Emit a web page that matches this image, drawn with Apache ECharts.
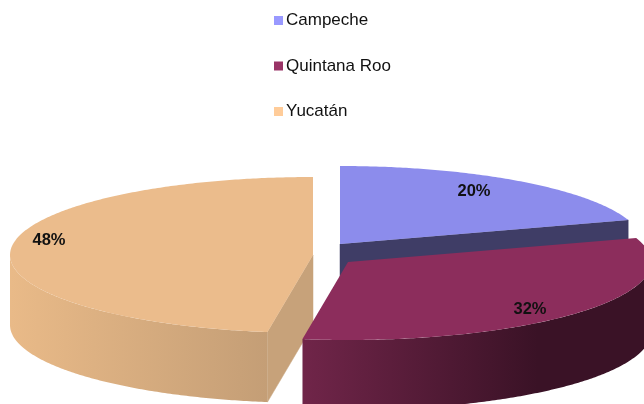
<!DOCTYPE html>
<html>
<head>
<meta charset="utf-8">
<style>html,body{margin:0;padding:0;background:#fff}#c{width:644px;height:404px}</style>
<script src="https://cdn.jsdelivr.net/npm/echarts@6/dist/echarts.min.js"></script>
</head>
<body>
<div id="c"></div>
<script>
const categories = ['Campeche', 'Quintana Roo', 'Yucatán'];
const shares = [20, 32.4, 47.6];
const legendColors = ['#9999FF', '#993366', '#FFCC99'];
const topColors = ['#8C8CEC', '#8C2D5C', '#EBBC8C'];
const faceColors = ['#3F3D66', '#5A1C3C', '#C7A27A'];
const sideStops = [
  ['#3F3D66', '#3F3D66'],
  ['#702549', '#3A1226'],
  ['#E9BA88', '#C49E76']
];
const centers = [[340, 244], [348, 262], [313, 255]];
const labelPos = [[474, 191], [530, 309], [49, 240]];
const RX = 303, RY = 78, H = 70;
const drawOrder = [0, 2, 1];

const total = shares.reduce((a, b) => a + b, 0);
function startAngle(i) {
  let s = 0;
  for (let k = 0; k < i; k++) s += shares[k];
  return s / total * Math.PI * 2;
}
function pt(c, a, dy) {
  return [c[0] + RX * Math.sin(a), c[1] - RY * Math.cos(a) + (dy || 0)];
}
function arc(c, a0, a1, dy) {
  const n = Math.max(2, Math.ceil(Math.abs(a1 - a0) / 0.01));
  const out = [];
  for (let j = 0; j <= n; j++) out.push(pt(c, a0 + (a1 - a0) * j / n, dy));
  return out;
}
function face(c, a, color) {
  const p = pt(c, a), q = pt(c, a, H);
  return { type: 'polygon', shape: { points: [c, p, q, [c[0], c[1] + H]] },
           style: { fill: color, stroke: color, lineWidth: 0.5 } };
}
function renderSlice(i) {
  const c = centers[i], a0 = startAngle(i), a1 = a0 + shares[i] / total * Math.PI * 2;
  const children = [];
  if (Math.sin(a0) < -1e-6) children.push(face(c, a0, faceColors[i]));
  if (Math.sin(a1) > 1e-6) children.push(face(c, a1, faceColors[i]));
  const s0 = Math.max(a0, Math.PI / 2), s1 = Math.min(a1, Math.PI * 1.5);
  if (s1 > s0) {
    const g = new echarts.graphic.LinearGradient(
      i === 1 ? c[0] - 45 : c[0] - RX, 0, i === 1 ? c[0] + 190 : c[0] - 45, 0,
      [{ offset: 0, color: sideStops[i][0] }, { offset: 1, color: sideStops[i][1] }],
      true);
    const upper = arc(c, s0, s1, 0);
    const lower = arc(c, s1, s0, H);
    children.push({ type: 'polygon', shape: { points: upper.concat(lower) },
                    style: { fill: g } });
  }
  children.push({ type: 'polygon', shape: { points: [c].concat(arc(c, a0, a1, 0)) },
                  style: { fill: topColors[i] } });
  return { type: 'group', children };
}
function renderLabel(i) {
  return { type: 'text', z2: 100,
    style: { x: labelPos[i][0], y: labelPos[i][1], text: Math.round(shares[i]) + '%',
             fill: '#111', font: 'bold 16.5px "Liberation Sans", Arial, sans-serif',
             textAlign: 'center', textVerticalAlign: 'middle' } };
}
const chart = echarts.init(document.getElementById('c'), null, { renderer: 'canvas' });
const series = drawOrder.map((i, k) => ({
  type: 'custom', name: categories[i], coordinateSystem: 'none', silent: true, animation: false,
  z: 2 + k, itemStyle: { color: legendColors[i] }, data: [[shares[i]]],
  renderItem: () => renderSlice(i)
}));
series.push({
  type: 'custom', name: 'labels', coordinateSystem: 'none', silent: true, animation: false, z: 10,
  data: shares.map(v => [v]),
  renderItem: (p) => renderLabel(p.dataIndex)
});
chart.setOption({
  animation: false,
  backgroundColor: '#fff',
  legend: {
    data: categories, orient: 'vertical', left: 269, top: 7, icon: 'rect',
    itemWidth: 9, itemHeight: 9, itemGap: 28.5, selectedMode: false,
    textStyle: { fontFamily: '"Liberation Sans", Arial, sans-serif', fontSize: 17, color: '#111', padding: [0, 0, 0, -2] }
  },
  series
});
</script>
</body>
</html>
